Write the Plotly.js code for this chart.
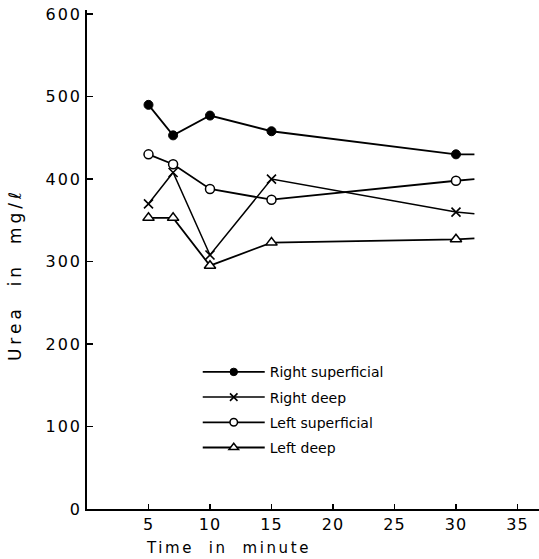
<!DOCTYPE html>
<html>
<head>
<meta charset="utf-8">
<script src="https://cdn.plot.ly/plotly-3.0.1.min.js"></script>
<style>html,body{margin:0;padding:0;background:#fff;}#chart{width:539px;height:559px;}</style>
</head>
<body>
<div id="chart"></div>
<script>
// Time in minute (last value is the trailing end of each drawn line, no marker)
var timeMin = [5, 7, 10, 15, 30, 31.5];
var rightSuperficial = [490, 453, 477, 458, 430, 430];
var rightDeep = [370, 408, 308, 400, 360, 358];
var leftSuperficial = [430, 418, 388, 375, 398, 400];
var leftDeep = [353, 353, 295, 323, 327, 328];
var seriesNames = ['Right superficial', 'Right deep', 'Left superficial', 'Left deep'];
var xTicks = [5, 10, 15, 20, 25, 30, 35];
var yTicks = [0, 100, 200, 300, 400, 500, 600];

var FONT = 'DejaVu Sans, sans-serif';
function sizes(s) { return timeMin.map(function (t, i) { return i === timeMin.length - 1 ? 0 : s; }); }
function spaced(t, ls) { return '<span style="letter-spacing:' + ls + 'px">' + t + '</span>'; }

var traces = [
  {x: timeMin, y: rightSuperficial, name: seriesNames[0], legendgroup: 'a',
   mode: 'lines+markers', line: {color: '#000', width: 1.8},
   marker: {symbol: 'circle', size: sizes(9), opacity: 1, color: '#000', line: {color: '#000', width: 1}}},
  {x: timeMin, y: rightDeep, name: seriesNames[1], legendgroup: 'b',
   mode: 'lines+markers', line: {color: '#000', width: 1.5},
   marker: {symbol: 'x-thin-open', size: sizes(9), opacity: 1, color: '#000', line: {color: '#000', width: 1.6}}},
  {x: timeMin, y: leftSuperficial, name: seriesNames[2], legendgroup: 'c',
   mode: 'lines+markers', line: {color: '#000', width: 1.8},
   marker: {symbol: 'circle', size: sizes(9), opacity: 1, color: '#fff', line: {color: '#000', width: 1.5}}},
  {x: timeMin, y: leftDeep, name: seriesNames[3], legendgroup: 'd',
   mode: 'lines+markers', line: {color: '#000', width: 1.8},
   marker: {symbol: 'triangle-up', size: sizes(10), opacity: 1, color: '#fff', line: {color: '#000', width: 1.5}}}
];

var layout = {
  width: 539, height: 559,
  margin: {l: 87, r: 0, t: 10, b: 50},
  paper_bgcolor: '#fff', plot_bgcolor: '#fff',
  font: {family: FONT, color: '#000', size: 15},
  showlegend: true,
  legend: {x: 0.245, y: 0.306, xanchor: 'left', yanchor: 'top', bgcolor: 'rgba(0,0,0,0)',
           font: {family: FONT, size: 14, color: '#000'}, tracegroupgap: 4, itemwidth: 62,
           traceorder: 'grouped'},
  xaxis: {range: [0, 36.75], showgrid: false, zeroline: false, showline: true,
          linecolor: '#000', linewidth: 1.8, ticks: 'inside', ticklen: 5, tickwidth: 1.3,
          tickcolor: '#000', tickvals: xTicks, ticktext: xTicks.map(function (v) { return spaced(String(v), 1); }),
          tickfont: {family: FONT, size: 16}},
  yaxis: {range: [0, 605], showgrid: false, zeroline: false, showline: true,
          linecolor: '#000', linewidth: 1.8, ticks: 'inside', ticklen: 6, tickwidth: 1.3,
          tickcolor: '#000', tickvals: yTicks, ticktext: yTicks.map(function (v) { return spaced(String(v), 2); }),
          tickfont: {family: FONT, size: 16}},
  annotations: [
    {text: spaced('Time  in  minute', 2.6), xref: 'paper', yref: 'paper', x: 0.312, y: -0.078,
     xanchor: 'center', yanchor: 'middle', showarrow: false, font: {family: FONT, size: 15}},
    {text: spaced('Urea  in  mg/ℓ', 4), xref: 'paper', yref: 'paper', x: -0.159, y: 0.469,
     xanchor: 'center', yanchor: 'middle', textangle: -90, showarrow: false, font: {family: FONT, size: 17}}
  ]
};

Plotly.newPlot('chart', traces, layout, {displayModeBar: false, staticPlot: true});
</script>
</body>
</html>
